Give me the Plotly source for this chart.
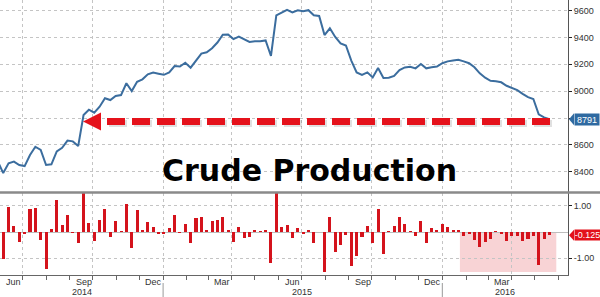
import plotly.graph_objects as go
import pandas as pd

# ---------------- data ----------------
line_dates = pd.date_range("2014-05-30", periods=104, freq="7D")
bar_dates = line_dates[1:]

production = [
    8475,
    8390, 8463, 8475, 8450, 8442, 8524, 8586, 8562, 8450, 8455,
    8552, 8578, 8632, 8626, 8591, 8822, 8862, 8840, 8884, 8947,
    8934, 8964, 8971, 9059, 9001, 9070, 9088, 9125, 9138, 9130,
    9122, 9140, 9187, 9184, 9212, 9175, 9227, 9280, 9290, 9320,
    9362, 9420, 9422, 9388, 9406, 9386, 9367, 9372, 9372, 9378,
    9262, 9565, 9582, 9605, 9587, 9603, 9595, 9603, 9565, 9560,
    9418, 9468, 9404, 9356, 9340, 9228, 9140, 9122, 9140, 9102,
    9172, 9098, 9100, 9113, 9157, 9177, 9182, 9170, 9202, 9170,
    9178, 9183, 9208, 9222, 9228, 9233, 9222, 9208, 9178, 9133,
    9100, 9077, 9074, 9066, 9040, 9026, 9008, 8980, 8955, 8942,
    8828, 8805, 8791,
]

weekly_change = [
    -1.03, 0.96, 0.23, -0.37, -0.05, 0.87, 0.92, -0.30, -1.41, 0.11,
    1.22, 0.27, 0.65, -0.02, -0.43, 1.50, 0.33, -0.33, 0.46, 0.87,
    -0.18, 0.42, 0.02, 1.05, -0.62, 0.84, 0.07, 0.39, 0.20, -0.09,
    -0.04, 0.14, 0.65, -0.03, 0.30, -0.41, 0.52, 0.58, 0.08, 0.42,
    0.46, 0.58, 0.04, -0.39, 0.20, -0.22, -0.20, 0.08, 0.01, 0.08,
    -1.17, 1.50, 0.20, 0.27, -0.22, 0.16, -0.08, 0.08, -0.43, 0.00,
    -1.51, 0.58, -0.75, -0.49, -0.11, -1.29, -0.91, -0.18, 0.23, -0.43,
    0.86, -0.84, 0.01, 0.22, 0.56, 0.30, 0.01, -0.17, 0.42, -0.41,
    0.14, 0.05, 0.29, 0.18, 0.08, 0.08, -0.14, -0.07, -0.30, -0.56,
    -0.37, -0.27, 0.01, -0.08, -0.33, -0.16, -0.14, -0.33, -0.27, -0.16,
    -1.25, -0.27, -0.125,
]

top_ticks = [8400, 8600, 8800, 9000, 9200, 9400, 9600]
top_ticktext = ["8400", "8600", "", "9000", "9200", "9400", "9600"]
bottom_ticks = [-1.0, 1.0]
bottom_ticktext = ["-1.00", "1.00"]

month_labels = ["Jun", "Sep", "Dec", "Mar", "Jun", "Sep", "Dec", "Mar"]
month_label_dates = ["2014-06-19", "2014-09-19", "2014-12-19", "2015-03-19",
                     "2015-06-19", "2015-09-19", "2015-12-19", "2016-03-19"]
year_labels = ["2014", "2015", "2016"]
year_label_dates = ["2014-09-17", "2015-07-02", "2016-03-23"]
year_breaks = ["2015-01-01", "2016-01-01"]

last_level = production[-1]
last_change = weekly_change[-1]

title_text = "Crude Production"

# ---------------- figure ----------------
W, H = 600, 297
ML, MR, MT, MB = 0, 32, 0, 22
PW = W - ML - MR
PH = H - MT - MB

x_range = ["2014-06-01 19:00", "2016-06-13 07:00"]
top_range = [8249, 9679]
bot_range = [-1.635, 1.483]

grid = "#c4c4c4"
tickfont = dict(family="Liberation Sans, Arial, sans-serif", size=9, color="#333333")

fig = go.Figure()
fig.add_trace(go.Scatter(
    x=line_dates, y=production, mode="lines",
    line=dict(color="#3b6d9e", width=2), xaxis="x", yaxis="y",
    showlegend=False, hoverinfo="skip"))
fig.add_trace(go.Bar(
    x=bar_dates, y=weekly_change, marker=dict(color="#d4131c", line=dict(width=0)),
    width=4 * 86400000, xaxis="x2", yaxis="y2", showlegend=False, hoverinfo="skip"))

xcommon = dict(type="date", range=x_range, showticklabels=False, showgrid=True,
               gridcolor=grid, griddash="dot", gridwidth=1,
               dtick="M3", tick0="2014-07-01", zeroline=False)

fig.update_layout(
    width=W, height=H,
    margin=dict(l=ML, r=MR, t=MT, b=MB, pad=0),
    paper_bgcolor="white", plot_bgcolor="white",
    bargap=0,
    xaxis=dict(domain=[0, 1], anchor="y", ticks="", showline=False, matches="x2", **xcommon),
    xaxis2=dict(domain=[0, 1], anchor="y2", ticks="outside", ticklen=4, tickcolor="#666666",
                showline=True, linecolor="#666666", linewidth=1,
                minor=dict(dtick="M1", tick0="2014-06-01", ticks="outside", ticklen=4,
                           tickcolor="#666666", showgrid=False),
                **xcommon),
    yaxis=dict(domain=[(PH - 192) / PH, 1], anchor="x", side="right", range=top_range,
               tickvals=top_ticks, ticktext=top_ticktext, ticks="outside", ticklen=3,
               tickcolor="#222222", tickfont=tickfont, showline=True, linecolor="#555555",
               showgrid=True, gridcolor=grid, griddash="dot", zeroline=False),
    yaxis2=dict(domain=[0, (PH - 193) / PH], anchor="x2", side="right", range=bot_range,
                tickvals=bottom_ticks, ticktext=bottom_ticktext, ticks="outside", ticklen=3,
                tickcolor="#222222", tickfont=tickfont, showline=True, linecolor="#555555",
                showgrid=True, gridcolor=grid, griddash="dot",
                zeroline=True, zerolinecolor="#bdbdbd", zerolinewidth=1),
)

def px_x(p):
    return (p - ML) / PW

def px_y(p):
    return (PH - (p - MT)) / PH

shapes = []
# shaded region of recent declines
shapes.append(dict(type="rect", xref="x2", yref="y2", x0="2016-01-24", x1="2016-05-29",
                   y0=0, y1=-1.52, fillcolor="#f8d3d5", line=dict(width=0), layer="below"))
# panel separator
shapes.append(dict(type="line", xref="paper", yref="paper", x0=0, x1=W / PW,
                   y0=px_y(192.5), y1=px_y(192.5), line=dict(color="#8a8a8a", width=2.5)))
# year separators under the axis
for d in year_breaks:
    shapes.append(dict(type="line", xref="x2", yref="paper", x0=d, x1=d,
                       y0=px_y(283), y1=px_y(297), line=dict(color="#9a9a9a", width=1)))
# dashed red arrow
ay = px_y(121.5)
shapes.append(dict(type="line", xref="paper", yref="paper", x0=px_x(109), x1=px_x(554),
                   y0=px_y(123.5), y1=px_y(123.5),
                   line=dict(color="rgba(0,0,0,0.12)", width=7, dash="18px,7px")))
shapes.append(dict(type="line", xref="paper", yref="paper", x0=px_x(107), x1=px_x(552),
                   y0=ay, y1=ay, line=dict(color="#e5121b", width=7, dash="18px,7px")))
shapes.append(dict(type="path", xref="paper", yref="paper",
                   path=f"M {px_x(83)},{ay} L {px_x(101)},{px_y(112.5)} L {px_x(101)},{px_y(130.5)} Z",
                   fillcolor="#e5121b", line=dict(width=0)))
# notches on the value labels
ly = px_y(119.2)
shapes.append(dict(type="path", xref="paper", yref="paper",
                   path=f"M {px_x(569)},{ly} L {px_x(574)},{px_y(113.2)} L {px_x(574)},{px_y(125.2)} Z",
                   fillcolor="#2f6aa1", line=dict(width=0)))
ry = px_y(235.3)
shapes.append(dict(type="path", xref="paper", yref="paper",
                   path=f"M {px_x(569)},{ry} L {px_x(574)},{px_y(229.8)} L {px_x(574)},{px_y(240.8)} Z",
                   fillcolor="#e3111b", line=dict(width=0)))

annotations = []
annotations.append(dict(text=f"<b>{title_text}</b>", xref="paper", yref="paper",
                        x=px_x(309), y=px_y(170), xanchor="center", yanchor="middle",
                        showarrow=False,
                        font=dict(family="DejaVu Sans, Verdana, sans-serif", size=30, color="#000000")))
for lab, d in zip(month_labels, month_label_dates):
    annotations.append(dict(text=lab, xref="x2", yref="paper", x=d, y=px_y(282),
                            xanchor="center", yanchor="middle", showarrow=False, font=tickfont))
for lab, d in zip(year_labels, year_label_dates):
    annotations.append(dict(text=lab, xref="x2", yref="paper", x=d, y=px_y(292),
                            xanchor="center", yanchor="middle", showarrow=False, font=tickfont))
annotations.append(dict(text=f"{last_level}", xref="paper", yref="y", x=px_x(574), y=last_level,
                        xanchor="left", yanchor="middle", showarrow=False, bgcolor="#2f6aa1",
                        width=24, height=11, borderpad=0,
                        font=dict(family="Liberation Sans, Arial, sans-serif", size=9, color="white")))
annotations.append(dict(text=f"{last_change}", xref="paper", yref="y2", x=px_x(574), y=last_change,
                        xanchor="left", yanchor="middle", showarrow=False, bgcolor="#e3111b",
                        width=25, height=10, borderpad=0,
                        font=dict(family="Liberation Sans, Arial, sans-serif", size=9, color="white")))

fig.update_layout(shapes=shapes, annotations=annotations)
fig.write_html("out.html")
